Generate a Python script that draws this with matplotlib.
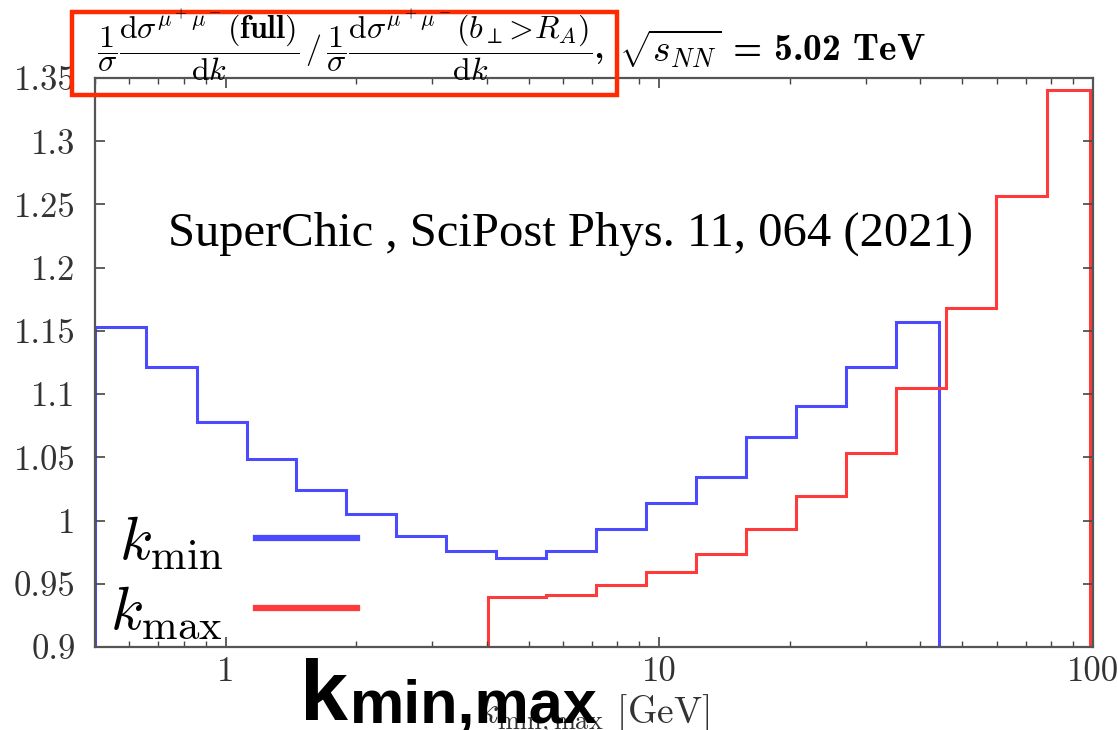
import matplotlib
matplotlib.use("Agg")
import matplotlib.pyplot as plt
from matplotlib.patches import Rectangle
from matplotlib.ticker import FixedLocator, FixedFormatter, LogLocator, NullFormatter

# histogram bin edges [GeV] and full / (b_perp > R_A) ratio per bin
kmin_edges = [0.5, 0.656, 0.858, 1.119, 1.454, 1.895, 2.472, 3.224, 4.204, 5.48,
              7.15, 9.32, 12.15, 15.85, 20.67, 26.95, 35.15, 44.24]
kmin_ratio = [1.1528, 1.1212, 1.0777, 1.0487, 1.0243, 1.0053, 0.9879, 0.9763, 0.9703,
              0.9763, 0.9932, 1.0142, 1.0348, 1.0664, 1.0908, 1.1216, 1.157]
kmax_edges = [4.03, 5.48, 7.15, 9.32, 12.15, 15.85, 20.67, 26.95, 35.15, 45.8,
              59.9, 78.2, 98.4]
kmax_ratio = [0.9392, 0.9413, 0.9487, 0.9597, 0.9737, 0.9932, 1.0197, 1.0537,
              1.1046, 1.1678, 1.2565, 1.3408]

x_ticks = [1, 10, 100]
x_labels = ["1", "10", "100"]
y_ticks = [0.9, 0.95, 1.0, 1.05, 1.1, 1.15, 1.2, 1.25, 1.3, 1.35]
y_labels = ["0.9", "0.95", "1", "1.05", "1.1", "1.15", "1.2", "1.25", "1.3", "1.35"]

BLUE = "#4a4aff"
RED = "#ff3a3a"
W, H = 1118, 730

plt.rcParams["mathtext.fontset"] = "cm"
plt.rcParams["font.family"] = ["cmr10", "DejaVu Serif"]
plt.rcParams["axes.unicode_minus"] = False

fig = plt.figure(figsize=(W / 100, H / 100), dpi=100)
ax = fig.add_axes([95 / W, (H - 647) / H, 998 / W, 569 / H])

ax.stairs(kmin_ratio, kmin_edges, baseline=0, color=BLUE, lw=2.2, label=r"$k_{\mathrm{min}}$")
ax.stairs(kmax_ratio, kmax_edges, baseline=0, color=RED, lw=2.2, label=r"$k_{\mathrm{max}}$")

ax.set_xscale("log")
ax.set_xlim(0.5, 100)
ax.set_ylim(0.9, 1.35)

ax.xaxis.set_major_locator(FixedLocator(x_ticks))
ax.xaxis.set_major_formatter(FixedFormatter(x_labels))
ax.xaxis.set_minor_locator(LogLocator(base=10, subs=range(2, 10)))
ax.xaxis.set_minor_formatter(NullFormatter())
ax.yaxis.set_major_locator(FixedLocator(y_ticks))
ax.yaxis.set_major_formatter(FixedFormatter(y_labels))

ax.tick_params(which="both", direction="in", top=True, right=True,
               color="#444444", labelcolor="#333333", labelsize=25)
ax.tick_params(which="major", length=7, width=1.2)
ax.tick_params(which="minor", length=4, width=1.0)
ax.tick_params(axis="x", pad=7)
ax.tick_params(axis="y", pad=14)
for spine in ax.spines.values():
    spine.set_color("#555555")
    spine.set_linewidth(1.6)

ax.set_xlabel(r"$k_{\mathrm{min,max}}$ [GeV]", fontsize=27, color="#333333")
ax.xaxis.set_label_coords(0.5, -0.08)

leg = ax.legend(loc="lower left", bbox_to_anchor=(0.015, 0.01), frameon=False,
                markerfirst=False, fontsize=44, handlelength=1.65,
                handletextpad=0.55, labelspacing=0.21, borderpad=0, borderaxespad=0)
for line in leg.get_lines():
    line.set_linewidth(4.5)

# header: ratio definition (boxed) followed by the collision energy
ratio_def = (r"$\dfrac{1}{\sigma}\dfrac{\mathrm{d}\sigma^{\mu^+\mu^-}\mathbf{(full)}}{\mathrm{d}k}"
             r"\,/\,\dfrac{1}{\sigma}\dfrac{\mathrm{d}\sigma^{\mu^+\mu^-}(b_\perp\!>\!R_A)}{\mathrm{d}k}$,")
fig.text(97 / W, (H - 60) / H, ratio_def, family="cmb10", fontsize=23,
         va="baseline", ha="left")
fig.text(619 / W, (H - 62) / H, r"$\sqrt{s_{NN}}$ = 5.02 TeV", family="cmb10",
         fontsize=27, va="baseline", ha="left")

fig.add_artist(Rectangle((72 / W, (H - 95) / H), (617 - 72) / W, (95 - 12) / H,
                         transform=fig.transFigure, fill=False,
                         edgecolor="#ff2a00", linewidth=3.2))

fig.text(168 / W, (H - 246) / H, "SuperChic , SciPost Phys. 11, 064 (2021)",
         family="Liberation Serif", fontsize=35, va="baseline", ha="left")

# large overlaid axis name
fig.text(300 / W, (H - 720) / H, "k", family="Liberation Sans", weight="bold",
         fontsize=62, va="baseline", ha="left")
fig.text(350 / W, (H - 722) / H, "min,max", family="Liberation Sans", weight="bold",
         fontsize=44, va="baseline", ha="left")

fig.savefig("out.png", dpi=100)
